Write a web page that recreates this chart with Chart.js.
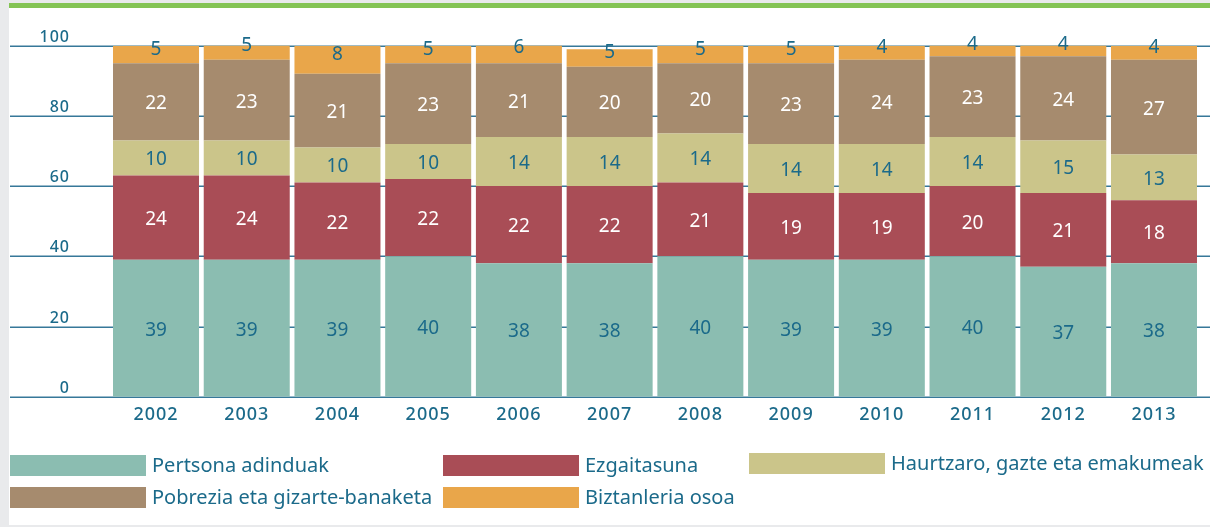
<!DOCTYPE html>
<html>
<head>
<meta charset="utf-8">
<title>Stacked bars</title>
<script src="https://cdn.jsdelivr.net/npm/chart.js@4.4.1/dist/chart.umd.min.js"></script>
<style>
    html, body { margin: 0; padding: 0; background: #fff; }
    #wrap { position: relative; width: 1210px; height: 527px; }
</style>
</head>
<body>
<div id="wrap"><canvas id="chart"></canvas></div>
<script>
// Data (percentages per year)
const years = ['2002', '2003', '2004', '2005', '2006', '2007', '2008', '2009', '2010', '2011', '2012', '2013'];
const seriesNames = ['Pertsona adinduak', 'Ezgaitasuna', 'Haurtzaro, gazte eta emakumeak', 'Pobrezia eta gizarte-banaketa', 'Biztanleria osoa'];
const elderly    = [39, 39, 39, 40, 38, 38, 40, 39, 39, 40, 37, 38];
const disability = [24, 24, 22, 22, 22, 22, 21, 19, 19, 20, 21, 18];
const youth      = [10, 10, 10, 10, 14, 14, 14, 14, 14, 14, 15, 13];
const poverty    = [22, 23, 21, 23, 21, 20, 20, 23, 24, 23, 24, 27];
const everyone   = [5, 5, 8, 5, 6, 5, 5, 5, 4, 4, 4, 4];
const yTicks = [0, 20, 40, 60, 80, 100];

const colors = ['#8bbdb1', '#a94d56', '#cbc58a', '#a68b6e', '#e9a64a'];
const labelColors = ['#1b6a8a', '#ffffff', '#1b6a8a', '#ffffff', '#1b6a8a'];
const textColor = '#1b6a8a';
const FONT = '"Noto Sans", "Open Sans", sans-serif';

/**
 * Page frame: grey strip on the left, green rule on top, grey rule at bottom
 */
const framePlugin = {
    id: 'frame',
    beforeDraw(chart) {
        const ctx = chart.ctx;
        const w = chart.width, h = chart.height;
        ctx.save();
        ctx.fillStyle = '#e9eaec';
        ctx.fillRect(0, 0, 9, h);
        ctx.fillRect(0, 0, w, 3);
        ctx.fillRect(0, h - 2, w, 2);
        ctx.fillStyle = '#84c455';
        ctx.fillRect(9, 3, w - 9, 5);
        ctx.restore();
    }
};

/**
 * Horizontal grid lines across the page with their labels sitting above
 */
const gridPlugin = {
    id: 'grid',
    beforeDatasetsDraw(chart) {
        const ctx = chart.ctx;
        const y = chart.scales.y;
        ctx.save();
        ctx.strokeStyle = '#367899';
        ctx.lineWidth = 1.5;
        ctx.fillStyle = textColor;
        ctx.font = '500 16px ' + FONT;
        ctx.letterSpacing = '1px';
        ctx.textAlign = 'right';
        ctx.textBaseline = 'alphabetic';
        yTicks.forEach(t => {
            const py = Math.round(y.getPixelForValue(t)) + 0.25;
            ctx.beginPath();
            ctx.moveTo(10, py);
            ctx.lineTo(chart.width, py);
            ctx.stroke();
            ctx.fillText(String(t), 70, py - 4);
        });
        ctx.restore();
    }
};

/**
 * Value labels inside the bars, year labels under them and the legend
 */
const labelPlugin = {
    id: 'labels',
    afterDatasetsDraw(chart) {
        const ctx = chart.ctx;
        ctx.save();
        ctx.font = '19px ' + FONT;
        ctx.textAlign = 'center';
        ctx.textBaseline = 'middle';
        const last = chart.data.datasets.length - 1;
        chart.data.datasets.forEach((ds, i) => {
            const meta = chart.getDatasetMeta(i);
            ctx.fillStyle = labelColors[i];
            meta.data.forEach((bar, j) => {
                const mid = (bar.y + bar.base) / 2;
                const ty = i === last ? mid - 5 : mid + 2;
                ctx.fillText(String(ds.data[j]), bar.x, ty);
            });
        });

        // year labels
        const x = chart.scales.x;
        ctx.fillStyle = textColor;
        ctx.font = '500 18px ' + FONT;
        ctx.letterSpacing = '1px';
        years.forEach((yr, j) => {
            ctx.fillText(yr, x.getPixelForValue(j), 415);
        });
        ctx.letterSpacing = '0px';

        // legend, three columns
        const cols = [10, 443, 749];
        const rows = [455, 487];
        ctx.font = '20px ' + FONT;
        ctx.textAlign = 'left';
        chart.data.datasets.forEach((ds, i) => {
            const cx = cols[i % 3];
            const cy = rows[Math.floor(i / 3)] - (i === 2 ? 2 : 0);
            ctx.fillStyle = ds.backgroundColor;
            ctx.fillRect(cx, cy, 136, 21);
            ctx.fillStyle = textColor;
            ctx.fillText(ds.label, cx + 142, cy + 11);
        });
        ctx.restore();
    }
};

const seriesValues = [elderly, disability, youth, poverty, everyone];

new Chart(document.getElementById('chart'), {
    type: 'bar',
    data: {
        labels: years,
        datasets: seriesValues.map((vals, i) => ({
            label: seriesNames[i],
            data: vals,
            backgroundColor: colors[i],
            borderWidth: 0,
            categoryPercentage: 1,
            barPercentage: 0.948
        }))
    },
    options: {
        responsive: true,
        maintainAspectRatio: false,
        animation: false,
        layout: {
            padding: { left: 110.65, right: 10.65, top: 45.7, bottom: 130.3 }
        },
        plugins: {
            legend: { display: false },
            tooltip: { enabled: false }
        },
        scales: {
            x: { stacked: true, display: false },
            y: { stacked: true, display: false, min: 0, max: 100 }
        }
    },
    plugins: [framePlugin, gridPlugin, labelPlugin]
});
</script>
</body>
</html>
